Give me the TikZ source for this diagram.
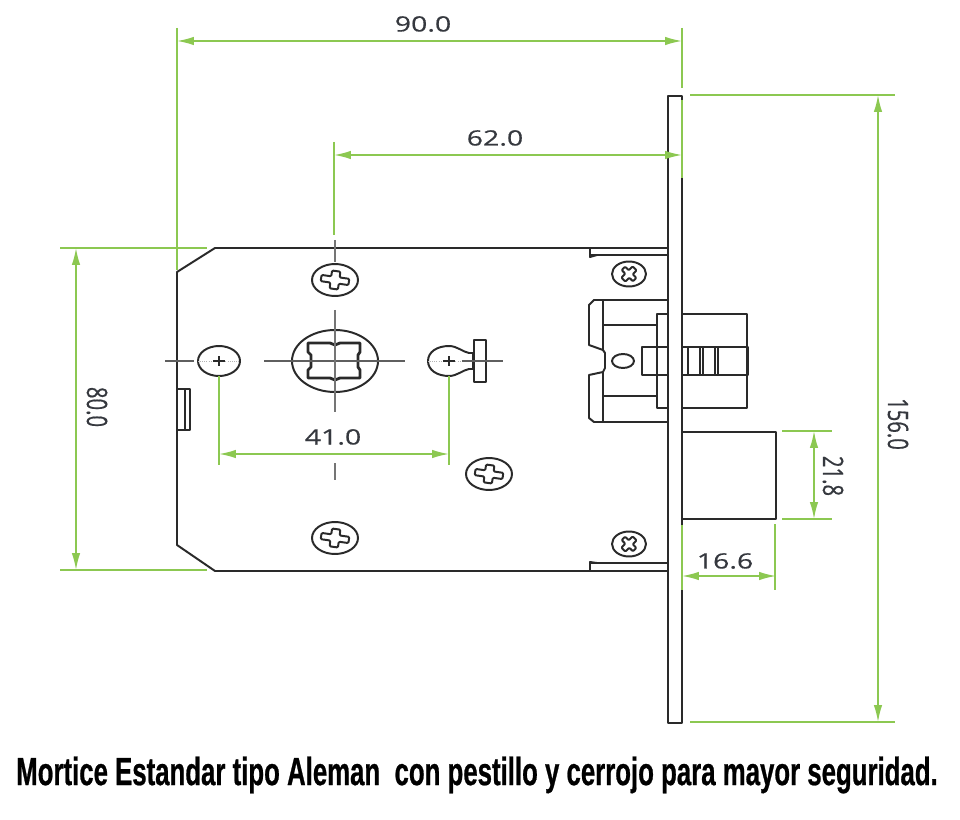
\documentclass[tikz,border=0pt]{standalone}
\usepackage{fontspec}
\usetikzlibrary{arrows.meta}
\newfontfamily\dimfont[FakeStretch=1.35,FakeBold=0.5]{Open Sans}
\newfontfamily\dimrotfont[FakeStretch=0.72,FakeBold=0.5]{Open Sans}
\newfontfamily\capfont[FakeStretch=0.655,FakeBold=0.6]{Liberation Sans Bold}
\definecolor{dimgreen}{HTML}{8CC851}
\definecolor{inkdark}{HTML}{2A2A2A}
\definecolor{labelink}{HTML}{35383E}
\tikzset{
  part/.style={draw=inkdark, line width=1.4pt, line join=round},
  thin part/.style={draw=inkdark, line width=0.8pt},
  centre/.style={draw=inkdark!75, line width=0.9pt},
  centre thick/.style={draw=inkdark!65, line width=1.8pt},
  faint/.style={draw=inkdark!35, line width=0.5pt, densely dotted},
  ext/.style={draw=dimgreen, line width=1.1pt},
  dim/.style={draw=dimgreen, line width=1.1pt, {Latex[length=12pt,width=6pt]}-{Latex[length=12pt,width=6pt]}},
  dimlabel/.style={text=labelink, font=\dimfont\fontsize{15}{15}\selectfont, inner sep=0pt},
  dimrot/.style={text=labelink, font=\dimrotfont\fontsize{20}{20}\selectfont, inner sep=0pt, rotate=-90}
}
% screw head: centre, radii, cross half lengths, tilt
\newcommand{\screwhead}[7]{%
  \draw[part] (#1,#2) ellipse ({#3} and {#4});
  \draw[part, rounded corners=0.8pt, rotate around={#7:(#1,#2)}]
    ({#1-#5},{#2-#6*0.35}) -- ({#1-#5*0.3},{#2-#6*0.35}) -- ({#1-#5*0.3},{#2-#6}) -- ({#1+#5*0.3},{#2-#6})
    -- ({#1+#5*0.3},{#2-#6*0.35}) -- ({#1+#5},{#2-#6*0.35}) -- ({#1+#5},{#2+#6*0.35}) -- ({#1+#5*0.3},{#2+#6*0.35})
    -- ({#1+#5*0.3},{#2+#6}) -- ({#1-#5*0.3},{#2+#6}) -- ({#1-#5*0.3},{#2+#6*0.35}) -- ({#1-#5},{#2+#6*0.35}) -- cycle;
}
\begin{document}
\begin{tikzpicture}[x=0.025cm,y=-0.025cm]

	\useasboundingbox (0,0) rectangle (960,820);

	% body
	\draw[part] (668,248) -- (215,248) -- (177,272) -- (177,545) -- (215,571) -- (668,571);
	\draw[part] (590,255) -- (668,255);
	\draw[part] (590,563) -- (668,563);
	\draw[part] (590,248) -- (590,257) -- (597,255);
	\draw[part] (590,571) -- (590,562) -- (597,563);
	\draw[part] (177,389) -- (190,389) -- (190,430) -- (177,430);
	\draw[part] (185,389) -- (185,430);

	% faceplate
	\draw[part] (668,96) rectangle (682,723);

	% screws
	\foreach \sx/\sy in {335/280, 489/474, 335/538}
		{\screwhead{\sx}{\sy}{23}{16}{14}{9}{-8}}
	\foreach \sx/\sy in {629/274, 629/544}
		{\screwhead{\sx}{\sy}{17}{12.5}{8}{8}{45}}

	% spindle
	\draw[part] (335,361) ellipse (43 and 31);
	\draw[part, line width=2pt] (308,343) -- (330,343) -- (335,345) -- (340,343) -- (360,343)
		-- (360,352) -- (358,355) -- (358,367) -- (360,370) -- (360,378) -- (340,378) -- (335,380) -- (330,378)
		-- (308,378) -- (308,370) -- (311,367) -- (311,355) -- (308,352) -- cycle;
	\draw[centre] (264,361) -- (405,361);
	\draw[centre thick] (335,310) -- (335,412);
	\draw[centre thick] (335,240) -- (335,262);
	\draw[centre thick] (335,463) -- (335,480);

	% holes
	\draw[part] (219,361) ellipse (21 and 15);
	\draw[centre] (165,361) -- (194,361);
	\draw[faint] (198,361) -- (240,361);
	\draw[thin part] (213,361) -- (225,361);
	\draw[thin part] (219,356) -- (219,366);
	\draw[part] (469,353) .. controls (463,352) and (457,346) .. (449,346)
		.. controls (437,346) and (428,352) .. (428,361) .. controls (428,370) and (437,376) .. (449,376)
		.. controls (457,376) and (463,370) .. (469,369) -- (473,369) -- (473,353) -- cycle;
	\draw[faint] (428,361) -- (470,361);
	\draw[thin part] (443,361) -- (455,361);
	\draw[thin part] (449,356) -- (449,366);
	\draw[part, line width=1.8pt] (474,340) rectangle (486,382);
	\draw[centre] (462,361) -- (503,361);

	% cylinder
	\draw[part] (668,300) -- (594,300) -- (589,305) -- (589,345) -- (603,350) -- (605,353) -- (605,368) -- (603,372)
		-- (589,375) -- (589,418) -- (594,422) -- (668,422);
	\draw[part] (603,300) -- (603,350);
	\draw[part] (603,372) -- (603,422);
	\draw[part] (603,325) -- (657,325);
	\draw[part] (603,396) -- (657,396);
	\draw[part] (668,314) -- (657,314) -- (657,408) -- (668,408);
	\draw[part] (682,314) -- (747,314) -- (747,408) -- (682,408);
	\draw[part, line width=1.9pt] (668,347) -- (642,347) -- (642,375) -- (668,375);
	\draw[part, line width=1.9pt] (682,347) -- (748,347) -- (748,375) -- (682,375);
	\draw[part] (623,361) ellipse (11 and 7);
	\foreach \bx in {688,700,703,715,718}
		\draw[part] (\bx,347) -- (\bx,375);

	% latch
	\draw[part] (682,432) -- (776,432) -- (776,519) -- (682,519);

	% dimension lines
	\coordinate (a1) at (177,41);	\coordinate (a2) at (682,41);
	\coordinate (b1) at (334,155);	\coordinate (b2) at (682,155);
	\coordinate (c1) at (76,248);	\coordinate (c2) at (76,570);
	\coordinate (d1) at (878,95);	\coordinate (d2) at (878,722);
	\coordinate (e1) at (219,454);	\coordinate (e2) at (449,454);
	\coordinate (f1) at (814,431);	\coordinate (f2) at (814,519);
	\coordinate (g1) at (682,576);	\coordinate (g2) at (776,576);

	\draw[dim] (a1) -- (a2);
	\draw[dim] (b1) -- (b2);
	\draw[dim] (c1) -- (c2);
	\draw[dim] (d1) -- (d2);
	\draw[dim] (e1) -- (e2);
	\draw[dim] (f1) -- (f2);
	\draw[dim] (g1) -- (g2);

	\draw[ext] (177,28) -- (177,270);
	\draw[ext] (682,28) -- (682,88);
	\draw[ext] (334,142) -- (334,235);
	\draw[ext] (682,100) -- (682,178);
	\draw[ext] (60,248) -- (207,248);
	\draw[ext] (60,570) -- (207,570);
	\draw[ext] (690,95) -- (895,95);
	\draw[ext] (690,722) -- (895,722);
	\draw[ext] (219,376) -- (219,465);
	\draw[ext] (449,376) -- (449,465);
	\draw[ext] (782,431) -- (832,431);
	\draw[ext] (782,519) -- (832,519);
	\draw[ext, line width=1.5pt] (682,525) -- (682,590);
	\draw[ext] (775,524) -- (775,590);

	% labels
	\node[dimlabel] (lab90) at (423,24) {90.0};
	\node[dimlabel] (lab62) at (495,138) {62.0};
	\node[dimlabel] (lab41) at (333,437) {41.0};
	\node[dimlabel] (lab166) at (725,561) {16.6};
	\node[dimrot] (lab80) at (97,407) {80.0};
	\node[dimrot] (lab156) at (898,424) {156.0};
	\node[dimrot] (lab218) at (833,476) {21.8};

	\node[inner sep=0pt, font=\capfont\fontsize{28}{28}\selectfont] (caption) at (477,775)
		{Mortice Estandar tipo Aleman\ \ con pestillo y cerrojo para mayor seguridad.};

\end{tikzpicture}
\end{document}
